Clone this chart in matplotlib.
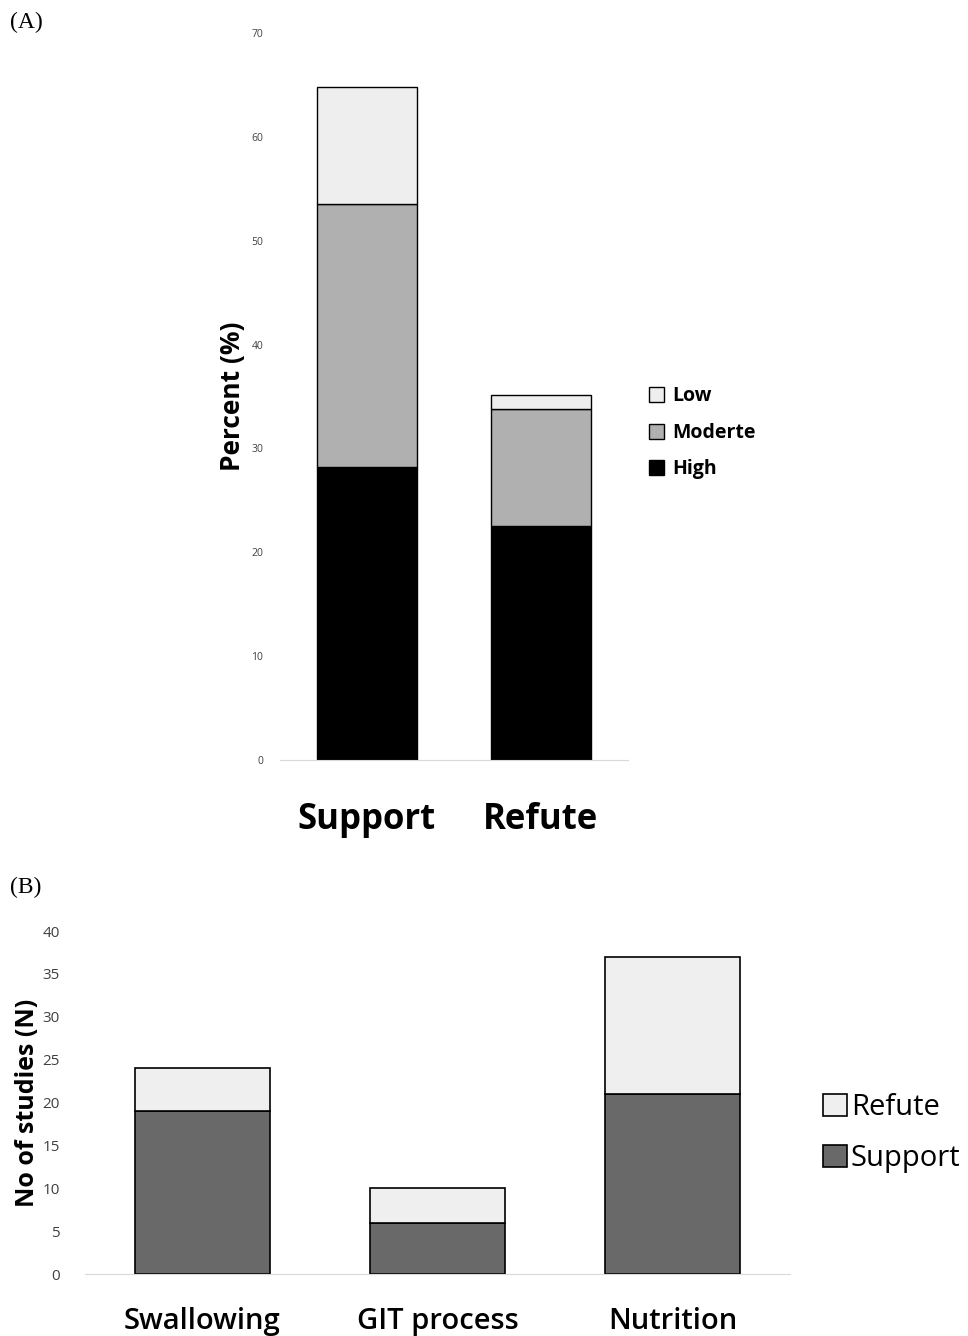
import matplotlib
matplotlib.use("Agg")
import matplotlib.pyplot as plt
import numpy as np

# Panel A: evidence quality
groups_a = ['Support', 'Refute']
high = [28.2, 22.5]
moderate = [25.3, 11.3]
low = [11.3, 1.3]
ticks_a = [0, 10, 20, 30, 40, 50, 60, 70]

# Panel B: number of studies
areas = ['Swallowing', 'GIT process', 'Nutrition']
support = [19, 6, 21]
refute = [5, 4, 16]
ticks_b = [0, 5, 10, 15, 20, 25, 30, 35, 40]

plt.rcParams['font.family'] = ['Open Sans', 'DejaVu Sans']

fig = plt.figure(figsize=(9.68, 13.36), dpi=100)

# ---- (A) ----
ax1 = fig.add_axes([0.289, 0.4311, 0.3595, 0.5442])
x = np.arange(len(groups_a))
w = 0.576
ax1.bar(x, high, w, color='#000000', edgecolor='black', linewidth=1, label='High')
ax1.bar(x, moderate, w, bottom=high, color='#b0b0b0', edgecolor='black', linewidth=1, label='Moderte')
ax1.bar(x, low, w, bottom=np.add(high, moderate), color='#eeeeee', edgecolor='black', linewidth=1, label='Low')
ax1.set_xlim(-0.5, 1.5)
ax1.set_ylim(0, 70)
ax1.set_yticks(ticks_a)
ax1.tick_params(axis='y', length=0, labelsize=7.5, colors='#404040', pad=12)
ax1.tick_params(axis='x', length=0, labelsize=25, pad=30)
ax1.set_xticks(x)
ax1.set_xticklabels(groups_a, fontweight='bold')
for s in ['top', 'right', 'left']:
    ax1.spines[s].set_visible(False)
ax1.spines['bottom'].set_color('#d9d9d9')
ax1.set_ylabel('Percent (%)', fontsize=19, fontweight='bold', labelpad=4)
h, l = ax1.get_legend_handles_labels()
ax1.legend(h[::-1], l[::-1], loc='center left', bbox_to_anchor=(1.01, 0.45), frameon=False,
           prop={'size': 14, 'weight': 'bold'}, handlelength=0.8, handleheight=0.8,
           handletextpad=0.4, labelspacing=0.85)

# ---- (B) ----
ax2 = fig.add_axes([0.0878, 0.0464, 0.7283, 0.2567])
xb = np.arange(len(areas))
ax2.bar(xb, support, w, color='#696969', edgecolor='black', linewidth=1.2, label='Support')
ax2.bar(xb, refute, w, bottom=support, color='#efefef', edgecolor='black', linewidth=1.2, label='Refute')
ax2.set_xlim(-0.5, 2.5)
ax2.set_ylim(0, 40)
ax2.set_yticks(ticks_b)
ax2.tick_params(axis='y', length=0, labelsize=11, colors='#404040', pad=18)
ax2.tick_params(axis='x', length=0, labelsize=21, pad=24)
ax2.set_xticks(xb)
ax2.set_xticklabels(areas, fontweight='semibold')
for s in ['top', 'right', 'left']:
    ax2.spines[s].set_visible(False)
ax2.spines['bottom'].set_color('#d9d9d9')
ax2.set_ylabel('No of studies (N)', fontsize=18, fontweight='bold', labelpad=2)
h, l = ax2.get_legend_handles_labels()
ax2.legend(h[::-1], l[::-1], loc='center left', bbox_to_anchor=(1.01, 0.41), frameon=False,
           prop={'size': 21}, handlelength=0.8, handleheight=0.8,
           handletextpad=0.15, labelspacing=0.75)

fig.text(0.010, 0.983, '(A)', fontsize=17, family='Liberation Serif', va='center')
fig.text(0.010, 0.336, '(B)', fontsize=17, family='Liberation Serif', va='center')

fig.savefig('out.png', dpi=100)
